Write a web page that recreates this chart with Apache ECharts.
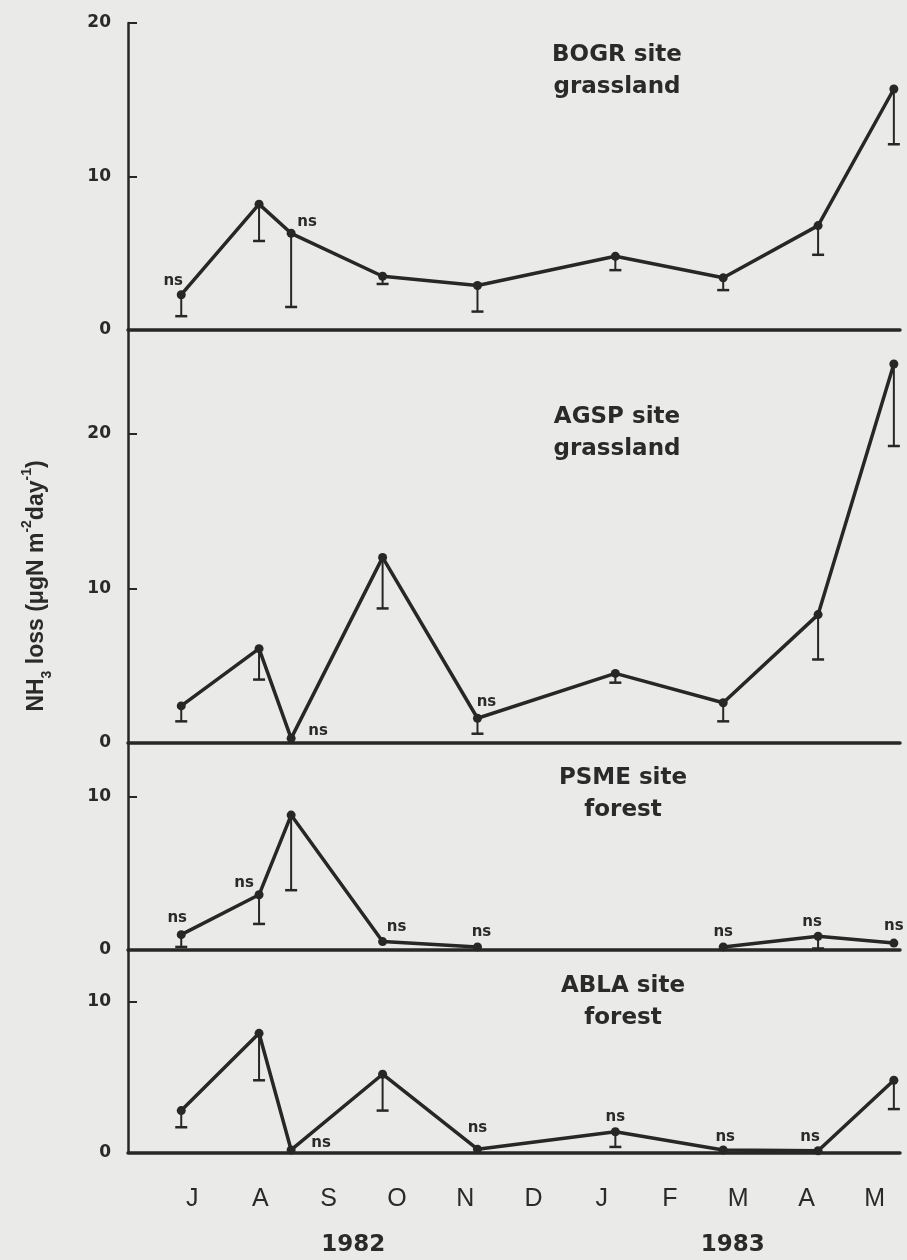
<!DOCTYPE html>
<html lang="en">
<head>
<meta charset="UTF-8">
<title>NH3 loss by site</title>
<style>
  html, body { margin: 0; padding: 0; background: #eaeae8; }
  #main { width: 907px; height: 1260px; }
</style>
<script src="https://cdn.jsdelivr.net/npm/echarts@6.0.0/dist/echarts.min.js"></script>
</head>
<body>
<div id="main"></div>
<script>
// sampling dates in months (0 = July 1982 tick ... 10 = May 1983 tick)
var sampleMonths = [-0.16, 0.98, 1.45, 2.79, 4.18, 6.2, 7.78, 9.17, 10.28];
var monthLabels = ['J', 'A', 'S', 'O', 'N', 'D', 'J', 'F', 'M', 'A', 'M'];
var monthTicks = [0, 1, 2, 3, 4, 5, 6, 7, 8, 9, 10];
var yearLabels = ['1982', '1983'];
var yearTicks = [2.36, 7.92];

// NH3 loss (ugN m-2 day-1); *Low = bottom of the error bar; *Ns = 1 when not significant
var bogr    = [2.3, 8.2, 6.3, 3.5, 2.9, 4.8, 3.4, 6.8, 15.7];
var bogrLow = [0.9, 5.8, 1.5, 3.0, 1.2, 3.9, 2.6, 4.9, 12.1];
var bogrNs  = [1, 0, 1, 0, 0, 0, 0, 0, 0];

var agsp    = [2.4, 6.1, 0.3, 12.0, 1.6, 4.5, 2.6, 8.3, 24.5];
var agspLow = [1.4, 4.1, null, 8.7, 0.6, 3.9, 1.4, 5.4, 19.2];
var agspNs  = [0, 0, 1, 0, 1, 0, 0, 0, 0];

var psme    = [1.0, 3.6, 8.8, 0.55, 0.2, null, 0.2, 0.9, 0.45];
var psmeLow = [0.2, 1.7, 3.9, null, null, null, null, 0.1, null];
var psmeNs  = [1, 1, 0, 1, 1, 0, 1, 1, 1];

var abla    = [2.8, 7.9, 0.2, 5.2, 0.25, 1.4, 0.2, 0.15, 4.8];
var ablaLow = [1.7, 4.8, null, 2.8, null, 0.4, null, null, 2.9];
var ablaNs  = [0, 0, 1, 0, 1, 1, 1, 1, 0];

var sites = [
  { title: 'BOGR site\ngrassland', values: bogr, low: bogrLow, ns: bogrNs },
  { title: 'AGSP site\ngrassland', values: agsp, low: agspLow, ns: agspNs },
  { title: 'PSME site\nforest',    values: psme, low: psmeLow, ns: psmeNs },
  { title: 'ABLA site\nforest',    values: abla, low: ablaLow, ns: ablaNs }
];

// layout of each panel (pixels) and where its "ns" marks sit relative to the point
var layout = [
  { top: 23,  height: 307, max: 20,   ticks: [0, 10, 20], titleX: 617, titleY: 71,
    nsOffset: [[-8, -14], 0, [16, -11], 0, 0, 0, 0, 0, 0] },
  { top: 330, height: 413, max: 26.7, ticks: [0, 10, 20], titleX: 617, titleY: 433,
    nsOffset: [0, 0, [27, -7], 0, [9, -16], 0, 0, 0, 0] },
  { top: 743, height: 207, max: 13.5, ticks: [0, 10], titleX: 623, titleY: 794,
    nsOffset: [[-4, -17], [-15, -12], 0, [14, -14], [4, -15], 0, [0, -15], [-6, -14], [0, -17]] },
  { top: 950, height: 203, max: 13.4, ticks: [0, 10], titleX: 623, titleY: 1002,
    nsOffset: [0, 0, [30, -7], 0, [0, -21], [0, -15], [2, -13], [-8, -14], 0] }
];

var ink = '#272727';
var xMin = -0.94, xMax = 10.37;
var gridLeft = 128, gridWidth = 772;

var grids = [], xAxes = [], yAxes = [], series = [], graphics = [];

sites.forEach(function (site, i) {
  var lay = layout[i];
  grids.push({ left: gridLeft, width: gridWidth, top: lay.top, height: lay.height, outerBoundsMode: 'none' });
  var isBottom = i === sites.length - 1;
  xAxes.push({
    gridIndex: i, type: 'value', min: xMin, max: xMax,
    axisLine: { show: true, onZero: false, lineStyle: { color: ink, width: 3.5 } },
    axisTick: { show: false },
    splitLine: { show: false },
    axisLabel: isBottom ? {
      show: true, customValues: monthTicks, margin: 34,
      fontFamily: 'Liberation Sans', fontSize: 25, color: '#2a2a2a',
      formatter: function (v) { return monthLabels[monthTicks.indexOf(Math.round(v))]; }
    } : { show: false }
  });
  yAxes.push({
    gridIndex: i, type: 'value', min: 0, max: lay.max,
    axisLine: { show: true, onZero: false, lineStyle: { color: ink, width: 2.5 } },
    axisTick: { show: true, inside: true, length: 9, customValues: lay.ticks.filter(function (t) { return t > 0; }),
      lineStyle: { color: ink, width: 2 } },
    splitLine: { show: false },
    axisLabel: { customValues: lay.ticks, margin: 17, fontFamily: 'DejaVu Sans', fontWeight: 'bold',
      fontSize: 17, color: '#2a2a2a' }
  });

  // error bars: downward whisker with a cap
  var errData = [];
  site.values.forEach(function (v, k) {
    if (v != null && site.low[k] != null) errData.push([sampleMonths[k], v, site.low[k]]);
  });
  series.push({
    type: 'custom', xAxisIndex: i, yAxisIndex: i, z: 2, silent: true,
    encode: { x: 0, y: [1, 2] },
    data: errData,
    renderItem: function (params, api) {
      var top = api.coord([api.value(0), api.value(1)]);
      var bot = api.coord([api.value(0), api.value(2)]);
      return {
        type: 'group', children: [
          { type: 'line', shape: { x1: top[0], y1: top[1], x2: bot[0], y2: bot[1] },
            style: { stroke: ink, lineWidth: 2 } },
          { type: 'line', shape: { x1: bot[0] - 6, y1: bot[1], x2: bot[0] + 6, y2: bot[1] },
            style: { stroke: ink, lineWidth: 2.5 } }
        ]
      };
    }
  });

  // the site line with its points and ns marks
  var lineData = site.values.map(function (v, k) {
    var item = { value: [sampleMonths[k], v == null ? '-' : v] };
    if (site.ns[k]) {
      item.label = { show: true, formatter: 'ns', position: 'inside', offset: lay.nsOffset[k] };
    }
    return item;
  });
  series.push({
    type: 'line', xAxisIndex: i, yAxisIndex: i, z: 3,
    data: lineData,
    symbol: 'circle', symbolSize: 9,
    connectNulls: false,
    lineStyle: { color: ink, width: 3.5 },
    itemStyle: { color: ink },
    label: { show: false, fontFamily: 'DejaVu Sans', fontWeight: 'bold', fontSize: 15, color: '#2a2a2a' }
  });

  graphics.push({
    type: 'text', x: lay.titleX, y: lay.titleY,
    style: { text: site.title, align: 'center', verticalAlign: 'middle', lineHeight: 32,
      font: 'bold 23px "DejaVu Sans"', fill: '#2a2a2a' }
  });
});

// year row under the month letters
grids.push({ left: gridLeft, width: gridWidth, top: 1153, height: 1, outerBoundsMode: 'none' });
xAxes.push({
  gridIndex: 4, type: 'value', min: xMin, max: xMax,
  axisLine: { show: false }, axisTick: { show: false }, splitLine: { show: false },
  axisLabel: { customValues: yearTicks, margin: 80, fontFamily: 'DejaVu Sans', fontWeight: 'bold',
    fontSize: 23, color: '#2a2a2a',
    formatter: function (v) { return yearLabels[yearTicks.indexOf(v)]; } }
});
yAxes.push({ gridIndex: 4, type: 'value', show: false, min: 0, max: 1 });

// y axis title, rotated
graphics.push({
  type: 'text', x: 37, y: 586, rotation: Math.PI / 2,
  style: {
    text: '{m|NH}{s|3}{m| loss (\u03bcgN m}{p|-2}{m|day}{p|-1}{m|)}',
    align: 'center', verticalAlign: 'middle', fill: '#2a2a2a',
    rich: {
      m: { fontFamily: 'Liberation Sans', fontWeight: 'bold', fontSize: 23, lineHeight: 34, fill: '#2a2a2a' },
      s: { fontFamily: 'Liberation Sans', fontWeight: 'bold', fontSize: 14, lineHeight: 17, verticalAlign: 'bottom', fill: '#2a2a2a' },
      p: { fontFamily: 'Liberation Sans', fontWeight: 'bold', fontSize: 14, lineHeight: 14, verticalAlign: 'top', fill: '#2a2a2a' }
    }
  }
});

var myChart = echarts.init(document.getElementById('main'));
myChart.setOption({
  backgroundColor: '#eaeae8',
  animation: false,
  grid: grids,
  xAxis: xAxes,
  yAxis: yAxes,
  series: series,
  graphic: graphics
});
</script>
</body>
</html>
